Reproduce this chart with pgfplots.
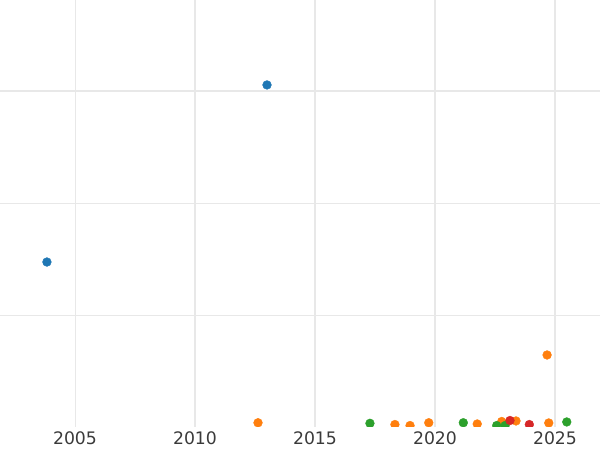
\documentclass[border=0pt]{standalone}
\usepackage{pgfplots}
\pgfplotsset{compat=1.18}
\usepackage{fontspec}
\setmainfont{DejaVu Sans}
\definecolor{tblue}{HTML}{1F77B4}
\definecolor{torange}{HTML}{FF7F0E}
\definecolor{tgreen}{HTML}{2CA02C}
\definecolor{tred}{HTML}{D62728}
\definecolor{gridc}{HTML}{E8E8E8}
\definecolor{ticklab}{HTML}{3A3A3A}
\begin{document}
\begin{tikzpicture}
\path[use as bounding box] (0,-23bp) rectangle (600bp,427bp);
\begin{axis}[
  at={(0,0)}, anchor=south west,
  scale only axis, width=600bp, height=427bp,
  xmin=2001.875, xmax=2026.875,
  ymin=0, ymax=3.8125,
  axis line style={draw=none},
  major tick length=0pt, minor tick length=0pt,
  xtick={2010,2015,2020,2025},
  extra x ticks={2005},
  extra x tick style={major grid style={gridc, line width=0.8bp}},
  ytick={3}, yticklabels={},
  minor ytick={1,2},
  grid=both,
  major grid style={gridc, line width=1.6bp},
  minor grid style={gridc, line width=0.8bp},
  clip marker paths=true,
  /pgf/number format/assume math mode=true,
  /pgf/number format/1000 sep={},
  xticklabel style={font=\fontsize{17.3}{20}\selectfont, text=ticklab, yshift=-1.2bp},
  every axis plot/.append style={only marks, mark=*, mark size=4.4bp},
]
\addplot[tblue, mark options={draw=tblue, fill=tblue}] coordinates {
(2003.83,1.473) (2013.0,3.054)
};
\addplot[torange, mark options={draw=torange, fill=torange}] coordinates {
(2012.625,0.038) (2018.33,0.022) (2018.96,0.013) (2019.74,0.038)
(2021.76,0.027) (2022.78,0.049) (2023.375,0.054) (2024.74,0.036)
(2024.67,0.643)
};
\addplot[tgreen, mark options={draw=tgreen, fill=tgreen}] coordinates {
(2017.29,0.033) (2021.18,0.038) (2022.57,0.013) (2022.92,0.013) (2025.49,0.045)
};
\addplot[tred, mark options={draw=tred, fill=tred}] coordinates {
(2023.125,0.058) (2023.93,0.022)
};
\end{axis}
\end{tikzpicture}
\end{document}
